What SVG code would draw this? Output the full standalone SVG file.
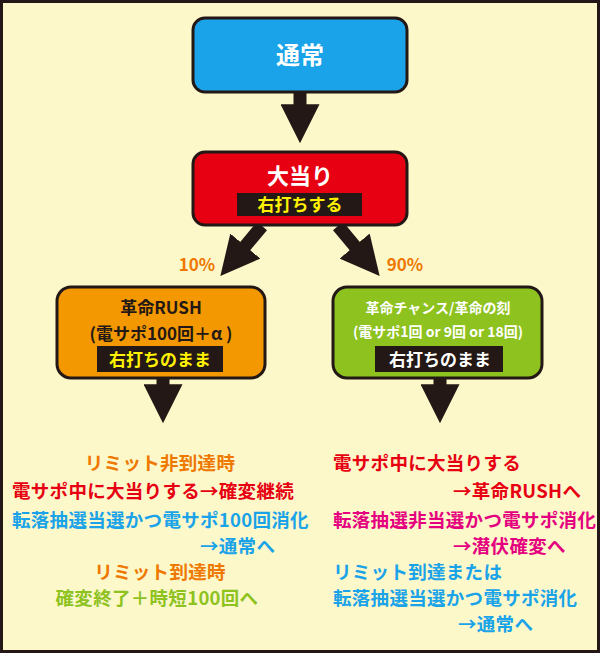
<svg xmlns="http://www.w3.org/2000/svg" width="600" height="653" viewBox="0 0 600 653">
<style>
text{font-family:"Noto Sans CJK JP","Noto Sans",sans-serif;font-weight:bold}
.box{stroke:#231815;stroke-width:3}
.c{text-anchor:middle}
.l{font-size:18.5px;letter-spacing:0.3px}
</style>
<defs><marker id="ah" markerWidth="3" markerHeight="3" refX="1.6" refY="1.5" orient="auto" markerUnits="strokeWidth"><path d="M0,0L3,1.5L0,3z" fill="#231815"/></marker></defs>
<rect x="1.5" y="1.5" width="597" height="650" fill="#FCF8CA" stroke="#231815" stroke-width="3"/>
<g id="connectors" stroke="#231815" stroke-width="13" fill="none">
<line x1="300" y1="92" x2="300" y2="125" marker-end="url(#ah)"/>
<line x1="262" y1="226" x2="232" y2="262" marker-end="url(#ah)"/>
<line x1="338" y1="226" x2="368" y2="262" marker-end="url(#ah)"/>
<line x1="163" y1="378" x2="163" y2="405" marker-end="url(#ah)"/>
<line x1="440" y1="378" x2="440" y2="405" marker-end="url(#ah)"/>
</g>
<text x="197" y="271" class="c" font-size="17" fill="#EE7800">10%</text>
<text x="405" y="271" class="c" font-size="17" fill="#EE7800">90%</text>
<g id="n1"><rect class="box" x="193" y="18" width="214" height="74" rx="12" fill="#1AA3E8"/><text x="300" y="64" class="c" font-size="24" fill="#fff">通常</text></g>
<g id="n2"><rect class="box" x="193" y="152" width="214" height="73" rx="12" fill="#E60012"/><text x="300" y="184" class="c" font-size="22" fill="#fff">大当り</text><rect x="237" y="193" width="125" height="23" fill="#231815"/><text x="300" y="211" class="c" font-size="17" fill="#FFF100">右打ちする</text></g>
<g id="n3"><rect class="box" x="57" y="287" width="208" height="91" rx="14" fill="#F39800"/><text x="161" y="314" class="c" font-size="17" fill="#231815">革命RUSH</text><text x="161" y="340" class="c" font-size="17" fill="#231815">(電サポ100回＋α )</text><rect x="97" y="346" width="126" height="26" fill="#231815"/><text x="160" y="366" class="c" font-size="17" fill="#FFF100">右打ちのまま</text></g>
<g id="n4"><rect class="box" x="333" y="287" width="209" height="91" rx="14" fill="#8DC21F"/><text x="438" y="313" class="c" font-size="14" fill="#fff">革命チャンス/革命の刻</text><text x="438" y="337" class="c" font-size="14" fill="#fff">(電サポ1回 or 9回 or 18回)</text><rect x="375" y="346" width="128" height="26" fill="#231815"/><text x="440" y="366" class="c" font-size="17" fill="#fff">右打ちのまま</text></g>
<g id="t1" class="l">
<text x="160" y="470" class="c" fill="#EE7800">リミット非到達時</text>
<text x="12" y="498" fill="#E60012">電サポ中に大当りする→確変継続</text>
<text x="12" y="527" fill="#1AA3E8">転落抽選当選かつ電サポ100回消化</text>
<text x="200" y="553" fill="#1AA3E8">→通常へ</text>
<text x="160" y="579" class="c" fill="#EE7800">リミット到達時</text>
<text x="157" y="605" class="c" fill="#8DC21F">確変終了＋時短100回へ</text>
</g>
<g id="t2" class="l">
<text x="333" y="470" fill="#E60012">電サポ中に大当りする</text>
<text x="453" y="498" fill="#E60012">→革命RUSHへ</text>
<text x="333" y="527" fill="#E4007F">転落抽選非当選かつ電サポ消化</text>
<text x="453" y="553" fill="#E4007F">→潜伏確変へ</text>
<text x="333" y="579" fill="#1AA3E8">リミット到達または</text>
<text x="333" y="605" fill="#1AA3E8">転落抽選当選かつ電サポ消化</text>
<text x="458" y="631" fill="#1AA3E8">→通常へ</text>
</g>
</svg>
